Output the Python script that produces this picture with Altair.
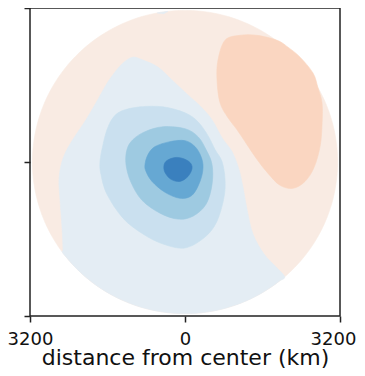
import altair as alt
import numpy as np
import pandas as pd

# ---- data (km from center) ----
RIM_KM = 3150
TICKS = [-3200, 0, 3200]

# weakest negative level, bounded by the rim at the bottom
LIGHT_BLUE = [(-2519, -1807), (-2540, -1353), (-2581, -774), (-2602, -361), (-2540, 10),
              (-2416, 299), (-2251, 568), (-2044, 878), (-1838, 1229), (-1631, 1600),
              (-1446, 1869), (-1260, 2075), (-1074, 2179), (-867, 2117), (-558, 1972),
              (-268, 1704), (62, 1394), (310, 1167), (558, 878), (764, 506), (971, 217),
              (1115, -155), (1198, -527), (1280, -981), (1404, -1497), (1631, -1910),
              (1879, -2179)]
LIGHT_BLUE_RIM_DEG = (310.8, 216.3)

# tiny patch of the same level touching the rim at the top
TOP_PATCH = [(-440, 3080)]
TOP_PATCH_RIM_DEG = (96.4, 100.5)

DARK_ORANGE = [(826, 2530), (681, 2117), (661, 1704), (723, 1229), (888, 919), (1074, 671),
               (1280, 361), (1487, 52), (1714, -237), (1962, -485), (2230, -547),
               (2478, -403), (2664, -114), (2788, 320), (2829, 774), (2829, 1229),
               (2746, 1538), (2643, 1848), (2375, 2179), (2127, 2385), (1900, 2530),
               (1487, 2633), (1136, 2633)]

BLUE_2 = [(-1487, 919), (-1301, 1063), (-929, 1146), (-454, 1146), (0, 1022), (268, 836),
          (475, 547), (620, 258), (764, 10), (826, -361), (805, -733), (661, -1229),
          (413, -1559), (0, -1786), (-454, -1704), (-867, -1497), (-1280, -1167),
          (-1611, -671), (-1735, -258), (-1755, 10), (-1693, 361), (-1611, 671)]

BLUE_3 = [(-1198, 258), (-1074, 465), (-826, 630), (-454, 733), (0, 692), (268, 527),
          (434, 258), (558, -52), (558, -465), (434, -878), (165, -1125), (-145, -1187),
          (-516, -1063), (-888, -795), (-1115, -423), (-1218, -52)]

BLUE_4 = [(-826, -52), (-764, 155), (-619, 320), (-310, 423), (0, 444), (206, 320),
          (330, 114), (372, -114), (310, -403), (145, -692), (-103, -754), (-413, -630),
          (-681, -403), (-805, -196)]

BLUE_5 = [(-372, 31), (-206, 93), (-41, 72), (103, -10), (145, -134), (62, -299),
          (-103, -403), (-289, -361), (-413, -217), (-434, -72)]

COLORS = {
    "rim": "#f9ebe3",
    "light_blue": "#e4edf4",
    "dark_orange": "#fad6c1",
    "blue2": "#cae0ef",
    "blue3": "#9ecae1",
    "blue4": "#66a8d3",
    "blue5": "#3a80be",
}


def rim_arc(a0, a1, n):
    t = np.radians(np.linspace(a0, a1, n))
    return list(zip(RIM_KM * np.cos(t), RIM_KM * np.sin(t)))


def frame(points):
    return pd.DataFrame({"i": range(len(points)),
                         "x": [p[0] for p in points],
                         "y": [p[1] for p in points]})


xscale = alt.Scale(domain=[-3200, 3200], nice=False, zero=False)
yscale = alt.Scale(domain=[-3200, 3200], nice=False, zero=False)

xaxis = alt.Axis(values=TICKS, labelExpr="format(abs(datum.value), 'd')",
                 title="distance from center (km)", grid=False, domain=False,
                 tickSize=6, tickWidth=1.5, tickColor="#222", labelPadding=8,
                 labelFlush=False, labelOverlap=False, labelFontSize=18,
                 labelOffset={"condition": {"test": "datum.value > 0", "value": -7}, "value": 0},
                 labelFont="DejaVu Sans", labelColor="#111", titleFont="DejaVu Sans",
                 titleFontSize=22, titleFontWeight="normal", titleColor="#111",
                 titleBaseline="alphabetic", titleY=48)
yaxis = alt.Axis(values=TICKS, labels=False, title=None, grid=False, domain=False,
                 tickSize=6, tickWidth=1.5, tickColor="#222")


def layer(points, color, interp):
    return alt.Chart(frame(points)).mark_line(
        fill=color, stroke=color, strokeWidth=0.6, interpolate=interp
    ).encode(
        x=alt.X("x:Q", scale=xscale, axis=xaxis),
        y=alt.Y("y:Q", scale=yscale, axis=yaxis),
        order=alt.Order("i:Q"),
    )


disc = rim_arc(0, 360, 181)[:-1]
light = LIGHT_BLUE + rim_arc(LIGHT_BLUE_RIM_DEG[0], LIGHT_BLUE_RIM_DEG[1], 40)
top_patch = TOP_PATCH + rim_arc(TOP_PATCH_RIM_DEG[0], TOP_PATCH_RIM_DEG[1], 6)

chart = alt.layer(
    layer(disc, COLORS["rim"], "linear-closed"),
    layer(light, COLORS["light_blue"], "cardinal-closed"),
    layer(top_patch, COLORS["light_blue"], "linear-closed"),
    layer(DARK_ORANGE, COLORS["dark_orange"], "cardinal-closed"),
    layer(BLUE_2, COLORS["blue2"], "cardinal-closed"),
    layer(BLUE_3, COLORS["blue3"], "cardinal-closed"),
    layer(BLUE_4, COLORS["blue4"], "cardinal-closed"),
    layer(BLUE_5, COLORS["blue5"], "cardinal-closed"),
).properties(
    width=310, height=308,
    background="white",
    autosize=alt.AutoSizeParams(type="none"),
    padding={"left": 22, "top": 0, "right": 17, "bottom": 58},
).configure_view(stroke="#222", strokeWidth=1.5)

chart.save("out.html", embed_options={"renderer": "svg", "actions": False})
